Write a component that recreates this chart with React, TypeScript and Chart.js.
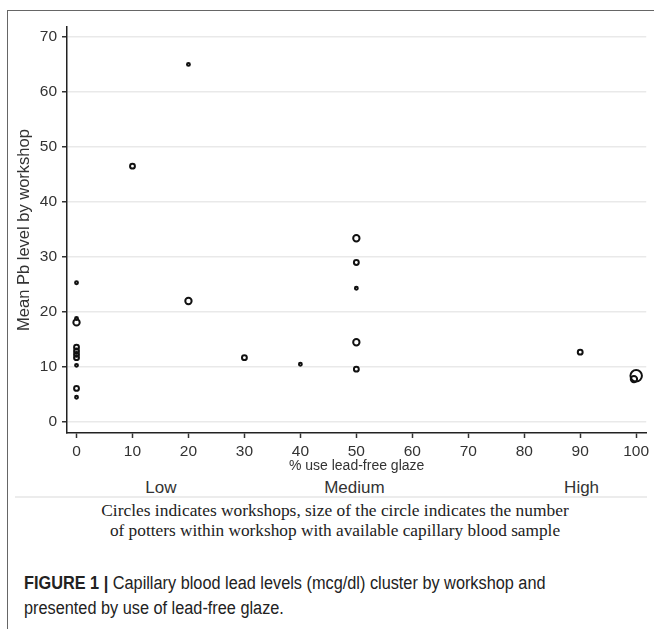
import React, { useEffect, useRef } from "react";
import { Chart, registerables } from "chart.js";

Chart.register(...registerables);

// % use of lead-free glaze per workshop
const leadFreePct = [0, 0, 0, 0, 0, 0, 0, 0, 0, 0, 10, 20, 20, 30, 40, 50, 50, 50, 50, 50, 90, 100, 99.6];
// mean capillary blood lead (mcg/dl) per workshop
const meanPb = [25.3, 18.8, 18.1, 13.6, 12.9, 12.3, 11.7, 10.3, 6.1, 4.5, 46.5, 65.0, 22.0, 11.7, 10.5, 33.4, 29.0, 24.3, 14.5, 9.6, 12.7, 8.4, 7.8];
// number of potters with capillary sample in workshop
const potters = [1, 1, 3, 2, 2, 2, 2, 1, 2, 1, 2, 1, 3, 2, 1, 3, 2, 1, 3, 2, 2, 8, 3];

const xTicks = [0, 10, 20, 30, 40, 50, 60, 70, 80, 90, 100];
const yTicks = [0, 10, 20, 30, 40, 50, 60, 70];
const groupLabels = ["Low", "Medium", "High"];
const groupAt = [15, 49.5, 90];

const SANS = "'Liberation Sans', Arial, sans-serif";
const SERIF = "'Liberation Serif', 'Times New Roman', serif";

export default function App() {
  const ref = useRef<HTMLCanvasElement | null>(null);

  useEffect(() => {
    if (!ref.current) return;
    const pts = leadFreePct.map((x, i) => ({ x, y: meanPb[i] }));
    const chart = new Chart(ref.current, {
      type: "scatter",
      data: {
        datasets: [
          {
            data: pts,
            pointStyle: "circle",
            pointBackgroundColor: "rgba(0,0,0,0)",
            pointBorderColor: "#111",
            pointBorderWidth: 2,
            pointRadius: (ctx: any) => 2.35 * Math.sqrt(potters[ctx.dataIndex]) - 0.9,
          },
        ],
      },
      options: {
        responsive: false,
        animation: false,
        devicePixelRatio: 1,
        layout: { padding: { top: 27, right: 6, left: 0, bottom: 0 } },
        plugins: { legend: { display: false }, tooltip: { enabled: false } },
        scales: {
          x: {
            type: "linear",
            min: -1.7,
            max: 101.8,
            afterFit: (s: any) => {
              s.height = 43;
            },
            afterBuildTicks: (s: any) => {
              s.ticks = xTicks.map((v) => ({ value: v }));
            },
            ticks: {
              includeBounds: false,
              autoSkip: false,
              maxRotation: 0,
              color: "#333",
              padding: 4,
              font: { family: SANS, size: 15.5 },
            },
            grid: { drawOnChartArea: false, tickLength: 5, tickColor: "#333", tickWidth: 1.5 },
            border: { color: "#222", width: 1.5 },
            title: {
              display: true,
              text: "% use lead-free glaze",
              color: "#333",
              font: { family: SANS, size: 14 },
              padding: { top: 0, bottom: 1 },
            },
          },
          y: {
            type: "linear",
            min: -2,
            max: 71.8,
            afterFit: (s: any) => {
              s.width = 67;
            },
            afterBuildTicks: (s: any) => {
              s.ticks = yTicks.map((v) => ({ value: v }));
            },
            ticks: {
              includeBounds: false,
              color: "#333",
              padding: 5,
              font: { family: SANS, size: 15.5 },
            },
            grid: { color: "#e9e9e9", lineWidth: 1.5, tickLength: 5, tickColor: "#333", tickWidth: 1.5 },
            border: { color: "#222", width: 1.5 },
            title: {
              display: true,
              text: "Mean Pb level by workshop",
              color: "#333",
              font: { family: SANS, size: 16.5 },
              padding: { top: 15, bottom: 0 },
            },
          },
        },
      },
    });
    return () => chart.destroy();
  }, []);

  const abs = (x: number, y: number): React.CSSProperties => ({
    position: "absolute",
    left: x,
    top: y,
    transform: "translate(-50%, -50%)",
    whiteSpace: "nowrap",
    lineHeight: 1,
  });

  // pixel of a group label: chart x scale 0 -> 76.7, 100 -> 637.7
  const gx = (v: number) => 76.7 + v * 5.61;

  return (
    <div style={{ position: "absolute", left: 0, top: 0, width: 654, height: 629, overflow: "hidden", background: "#fff" }}>
      <div style={{ position: "absolute", left: 7, top: 10, width: 654, height: 640, borderLeft: "1.5px solid #666", borderTop: "1.5px solid #666" }} />
      <canvas ref={ref} width={654} height={476} style={{ position: "absolute", left: 0, top: 0, width: 654, height: 476 }} />
      {groupLabels.map((g, i) => (
        <div key={g} style={{ ...abs(gx(groupAt[i]), 487), fontFamily: SANS, fontSize: 17, color: "#333" }}>{g}</div>
      ))}
      <div style={{ position: "absolute", left: 15, top: 496, width: 632, height: 2, background: "#ececec" }} />
      <div style={{ ...abs(335, 511), fontFamily: SERIF, fontSize: 17.4, color: "#222" }}>
        Circles indicates workshops, size of the circle indicates the number
      </div>
      <div style={{ ...abs(335, 531), fontFamily: SERIF, fontSize: 17.3, color: "#222" }}>
        of potters within workshop with available capillary blood sample
      </div>
      <div style={{ position: "absolute", left: 24, top: 571, fontFamily: SANS, fontSize: 18, lineHeight: "25px", color: "#222", whiteSpace: "nowrap", transform: "scaleX(0.905)", transformOrigin: "0 0" }}>
        <b>FIGURE 1 |</b> Capillary blood lead levels (mcg/dl) cluster by workshop and
        <br />
        presented by use of lead-free glaze.
      </div>
    </div>
  );
}
